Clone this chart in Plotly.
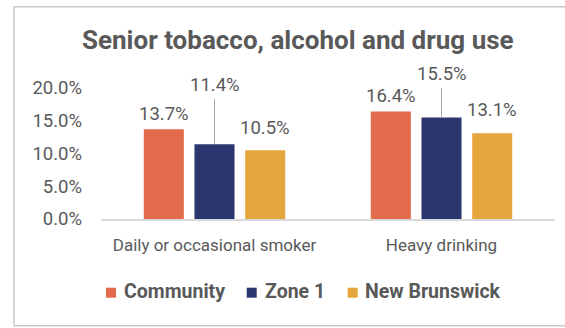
import plotly.graph_objects as go

# ---- data ---------------------------------------------------------------
categories = ["Daily or occasional smoker", "Heavy drinking"]
series_names = ["Community", "Zone 1", "New Brunswick"]
community = [13.7, 16.4]
zone_1 = [11.4, 15.5]
new_brunswick = [10.5, 13.1]
y_tick_values = [0, 5, 10, 15, 20]
y_tick_labels = ["0.0%", "5.0%", "10.0%", "15.0%", "20.0%"]

# ---- styling ------------------------------------------------------------
colors = ["#E26B4C", "#2B366E", "#E6A63E"]
TEXT = "#595959"
FONT = "Roboto, sans-serif"

W, H = 565, 328
M_L, M_R, M_T, M_B = 101, 10, 88, 109
plot_w = W - M_L - M_R
plot_h = H - M_T - M_B
BARGAP = 0.33
BARGROUPGAP = 0.21

# pixel width of one bar slot inside a category group
slot_px = plot_w / len(categories) * (1 - BARGAP) / len(series_names)


def px_x(px):
    """page pixel -> paper x"""
    return (px - M_L) / plot_w


def px_y(py):
    """page pixel -> paper y"""
    return (H - M_B - py) / plot_h


fig = go.Figure()
series_values = [community, zone_1, new_brunswick]
for name, vals, col in zip(series_names, series_values, colors):
    fig.add_trace(go.Bar(
        x=categories, y=vals, name=name,
        marker=dict(color=col, line=dict(width=0)),
        showlegend=False, hoverinfo="skip",
    ))

# value labels: plain labels sit just above the bar, Zone 1 labels use a leader line
label_lift = {0: [15, 16], 2: [22, 23]}
leader_len = [59, 43]
annotations = []
for s, vals in enumerate(series_values):
    shift = (s - (len(series_names) - 1) / 2) * slot_px
    for c, v in enumerate(vals):
        txt = f"{v:.1f}%"
        if s in label_lift:
            annotations.append(dict(
                x=categories[c], y=v, xref="x", yref="y", text=txt,
                showarrow=False, xshift=shift, yshift=label_lift[s][c],
                yanchor="middle", xanchor="center",
                font=dict(family=FONT, size=18.5, color=TEXT),
            ))
        else:
            annotations.append(dict(
                x=categories[c], y=v, xref="x", yref="y", text=txt,
                showarrow=True, arrowhead=0, arrowwidth=1, arrowcolor="#A6A6A6",
                ax=0, ay=-leader_len[c], xshift=shift, borderpad=2,
                font=dict(family=FONT, size=18.5, color=TEXT),
            ))

# legend drawn as swatches + bold labels along the bottom
legend_swatch_x = [106, 246.7, 347.7]
legend_text_x = [121.7, 262.5, 363.3]
shapes = []
for col, sx in zip(colors, legend_swatch_x):
    shapes.append(dict(
        type="rect", xref="paper", yref="paper",
        x0=px_x(sx), x1=px_x(sx + 10), y0=px_y(297.7), y1=px_y(287.7),
        fillcolor=col, line=dict(width=0),
    ))
for name, tx in zip(series_names, legend_text_x):
    annotations.append(dict(
        x=px_x(tx), y=px_y(291.5), xref="paper", yref="paper", text=name,
        showarrow=False, xanchor="left", yanchor="middle",
        font=dict(family=FONT, size=19.5, color=TEXT, weight=700),
    ))

# outer frame
shapes.append(dict(
    type="rect", xref="paper", yref="paper", layer="below",
    x0=px_x(14), x1=px_x(570), y0=px_y(325.7), y1=px_y(6.7),
    line=dict(color="#C8C8C8", width=1.5), fillcolor="rgba(0,0,0,0)",
))

fig.update_layout(
    width=W, height=H,
    margin=dict(l=M_L, r=M_R, t=M_T, b=M_B, pad=0),
    paper_bgcolor="white", plot_bgcolor="white",
    barmode="group", bargap=BARGAP, bargroupgap=BARGROUPGAP,
    title=dict(
        text="Senior tobacco, alcohol and drug use",
        x=297.8 / W, xref="container", xanchor="center",
        y=1 - 40 / H, yref="container", yanchor="middle",
        font=dict(family=FONT, size=26, color=TEXT, weight=700),
    ),
    xaxis=dict(
        showline=True, linecolor="#D9D9D9", linewidth=1.5,
        ticks="", showgrid=False, zeroline=False,
        tickfont=dict(family=FONT, size=17, color=TEXT),
        ticklabelstandoff=10,
    ),
    yaxis=dict(
        range=[0, 20], tickmode="array",
        tickvals=y_tick_values, ticktext=y_tick_labels,
        ticks="", showgrid=False, zeroline=False, showline=False,
        tickfont=dict(family=FONT, size=18.5, color=TEXT),
        ticklabelstandoff=18,
    ),
    annotations=annotations,
    shapes=shapes,
    showlegend=False,
)

fig.write_html("out.html")
